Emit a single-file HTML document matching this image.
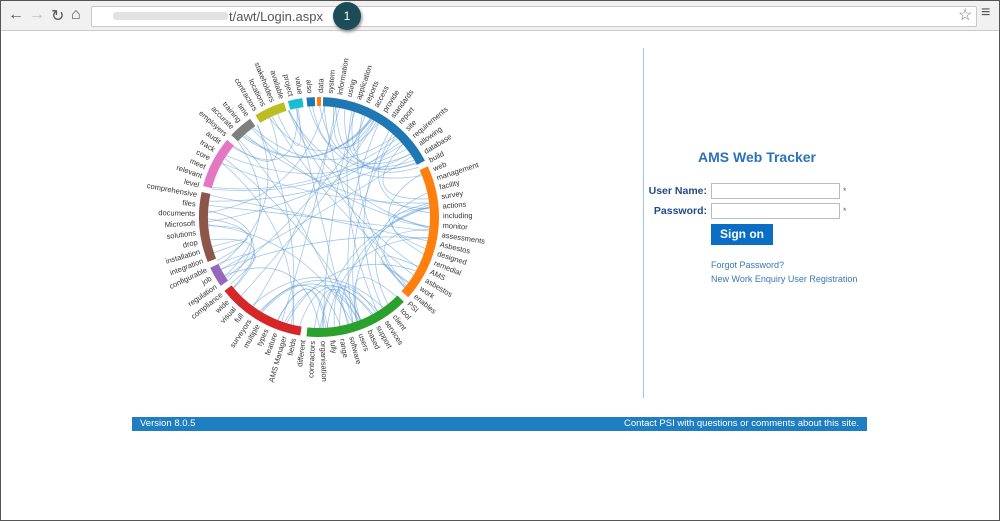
<!DOCTYPE html>
<html><head><meta charset="utf-8"><style>
body{margin:0;width:1000px;height:521px;overflow:hidden;background:#fff;font-family:"Liberation Sans",sans-serif;position:relative}
#frame{position:absolute;left:0;top:0;width:998px;height:519px;border:1px solid #555}
#bar{position:absolute;left:1px;top:1px;width:998px;height:29px;background:#f1f1f1;border-bottom:1px solid #ccc}
#url{position:absolute;left:90px;top:5px;width:884px;height:19px;background:#fff;border:1px solid #c8c8c8;border-radius:2px}
#blur{position:absolute;left:112px;top:11px;width:115px;height:8px;background:#e2e2e2;border-radius:3px}
.nav{position:absolute;top:5px;font-size:16px;color:#555}
#urltxt{position:absolute;left:228px;top:8px;font-size:13px;color:#555}
#callout{position:absolute;left:333px;top:2px;width:28px;height:28px;border-radius:50%;background:#1b4c57;color:#fff;font-size:12px;text-align:center;line-height:28px;box-shadow:1px 2px 3px #888}
#divider{position:absolute;left:643px;top:48px;width:1px;height:350px;background:#9cc4e4}
#title{position:absolute;left:698px;top:149px;font-size:14px;font-weight:bold;color:#2a73b8}
.lbl{position:absolute;width:80px;text-align:right;font-size:10.5px;font-weight:bold;color:#1e4a8a}
.inp{position:absolute;left:711px;width:127px;height:14px;border:1px solid #bbb;background:#fff}
.star{position:absolute;left:843px;font-size:9px;color:#666}
#btn{position:absolute;left:711px;top:224px;width:62px;height:21px;background:#0a6ec4;color:#fff;font-size:12px;font-weight:bold;text-align:center;line-height:21px}
.lnk{position:absolute;left:711px;font-size:9px;color:#3a77b5}
#footer{position:absolute;left:132px;top:417px;width:735px;height:14px;background:#1f7dc1;color:#fff;font-size:9.5px;line-height:14px}
</style></head><body>
<div id="frame"></div>
<div id="bar">
<span class="nav" style="left:7px">&#8592;</span><span class="nav" style="left:28px;color:#bbb">&#8594;</span><span class="nav" style="left:50px">&#8635;</span><span class="nav" style="left:70px">&#8962;</span>
<div id="url"></div><div id="blur"></div><span id="urltxt">t/awt/Login.aspx</span>
<span class="nav" style="left:957px;top:4px;color:#777">&#9734;</span><span class="nav" style="left:980px;top:3px">&#8801;</span>
</div>
<div id="callout">1</div>
<svg id="chart" width="640" height="400" style="position:absolute;left:0;top:30px"></svg>
<div id="divider"></div>
<div id="title">AMS Web Tracker</div>
<div class="lbl" style="left:627px;top:185px">User Name:</div><div class="inp" style="top:183px"></div><div class="star" style="top:186px">*</div>
<div class="lbl" style="left:627px;top:205px">Password:</div><div class="inp" style="top:203px"></div><div class="star" style="top:206px">*</div>
<div id="btn">Sign on</div>
<div class="lnk" style="top:260px">Forgot Password?</div>
<div class="lnk" style="top:274px">New Work Enquiry User Registration</div>
<div id="footer"><span style="position:absolute;left:8px">Version 8.0.5</span><span style="position:absolute;right:8px">Contact PSI with questions or comments about this site.</span></div>
<script>
var s=document.getElementById('chart'),cx=319,cy=187,r=120,ns='http://www.w3.org/2000/svg';
function P(a,rr){a=(a-90)*Math.PI/180;return [cx+rr*Math.cos(a),cy+rr*Math.sin(a)]}
var segs=[[2,62,'#1f77b4'],[65,132,'#ff7f0e'],[135,186,'#2ca02c'],[189,232,'#d62728'],[235,245,'#9467bd'],[248,282,'#8c564b'],[285,310,'#e377c2'],[313,325,'#7f7f7f'],[328,343,'#bcbd22'],[345,352,'#17becf'],[354,358,'#1f77b4'],[359,361,'#ff7f0e']];
var seed=7;function rnd(){seed=(seed*9301+49297)%233280;return seed/233280}
var h='';
for(var i=0;i<85;i++){var a=rnd()*360,b=rnd()*360,p=P(a,r-9),q=P(b,r-9),m=[(p[0]+q[0])/2,(p[1]+q[1])/2],c=[cx+(m[0]-cx)*0.35,cy+(m[1]-cy)*0.35];h+='<path d="M'+p+' Q'+c+' '+q+'" fill="none" stroke="#5b9bd5" stroke-opacity="0.55" stroke-width="0.8"/>'}
segs.forEach(function(g){var p1=P(g[0],r),p2=P(g[1],r),p3=P(g[1],r-9),p4=P(g[0],r-9),l=(g[1]-g[0]>180)?1:0;
h+='<path d="M'+p1+' A'+r+','+r+' 0 '+l+' 1 '+p2+' L'+p3+' A'+(r-9)+','+(r-9)+' 0 '+l+' 0 '+p4+'Z" fill="'+g[2]+'"/>'});
var L="data system information using application reports access provide standards report site requirements allowing database build web management facility survey actions including monitor assessments Asbestos designed remedial AMS asbestos work enables PSI tool client services support based users software range fully organisation contractors different fields AMS_Manager feature types multiple surveyors full visual wide compliance regulation job configurable integration installation drop solutions Microsoft documents files comprehensive level relevant meet core track audit employers accurate training time contractors locations stakeholders available project value also".split(' ');
L.forEach(function(t,i){var a=1+i*359/L.length,p=P(a,r+4);t=t.replace('_',' ');
if(a<180)h+='<text x="'+p[0]+'" y="'+p[1]+'" font-size="7.5" fill="#333" dominant-baseline="middle" transform="rotate('+(a-90)+' '+p[0]+' '+p[1]+')">'+t+'</text>';
else h+='<text x="'+p[0]+'" y="'+p[1]+'" font-size="7.5" fill="#333" text-anchor="end" dominant-baseline="middle" transform="rotate('+(a+90)+' '+p[0]+' '+p[1]+')">'+t+'</text>';});
s.innerHTML=h;
</script>
</body></html>
